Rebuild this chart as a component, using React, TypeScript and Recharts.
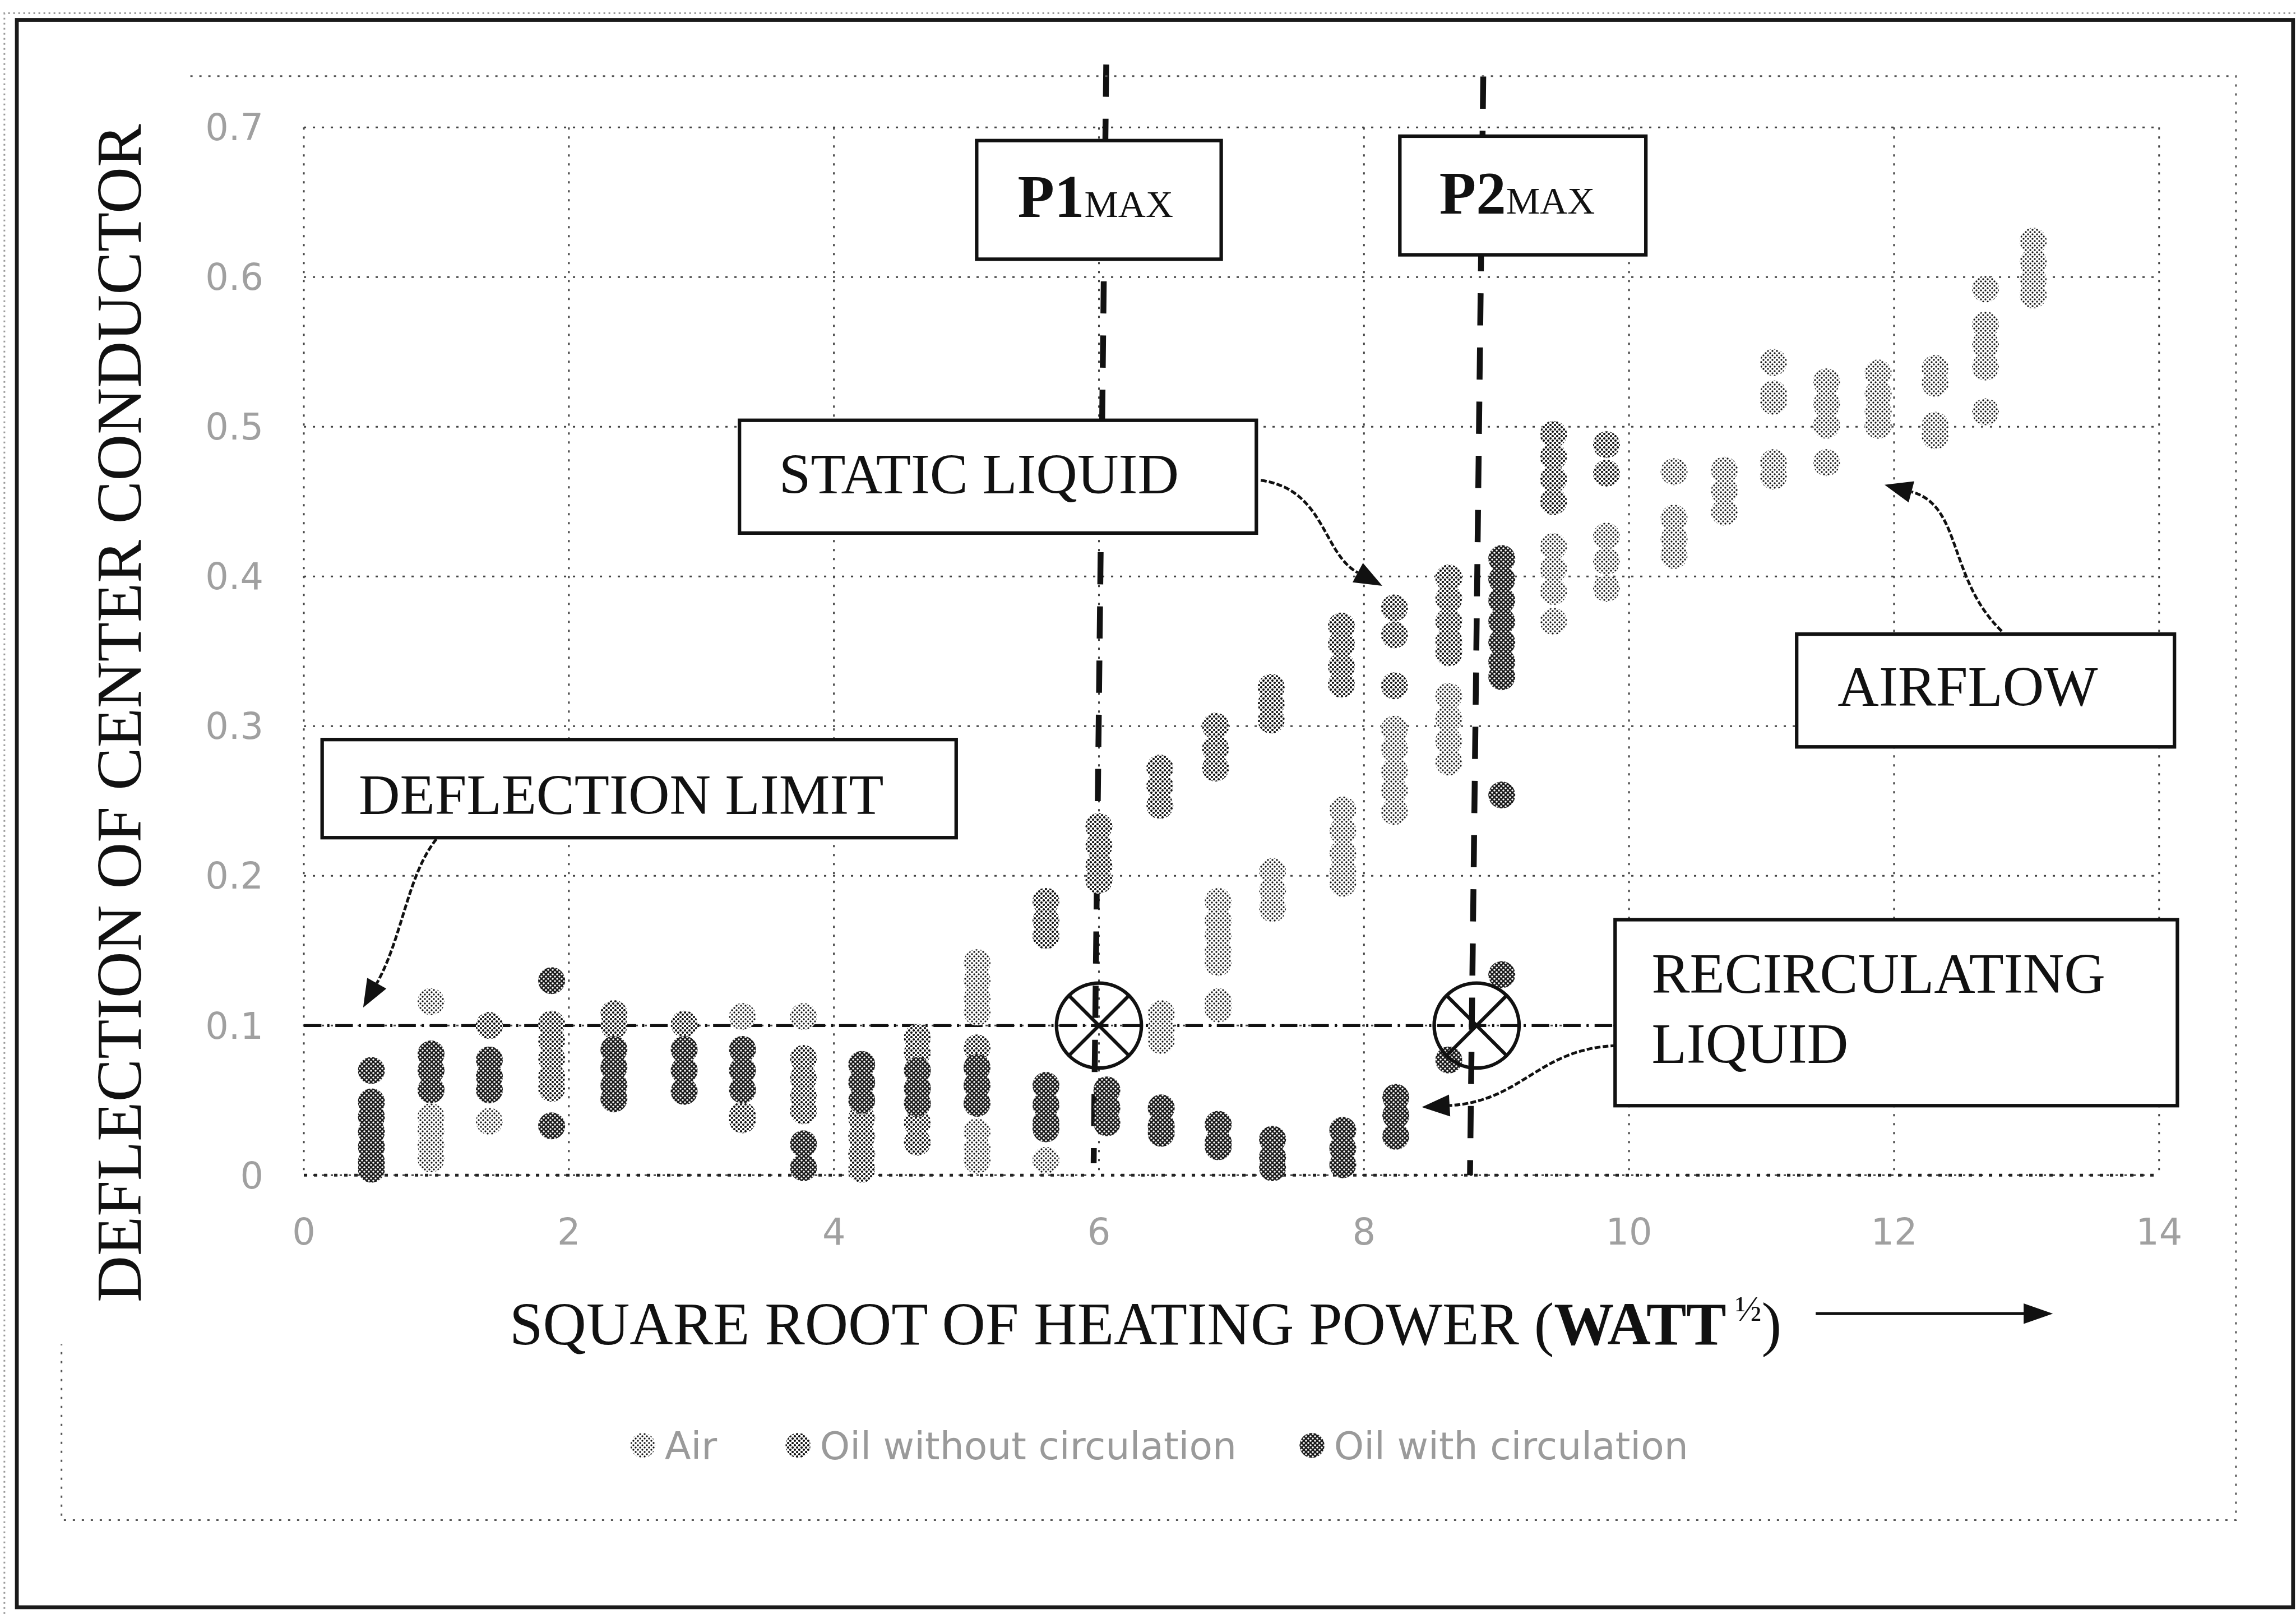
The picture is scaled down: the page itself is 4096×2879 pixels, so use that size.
import React from "react";
import {
  ScatterChart,
  Scatter,
  XAxis,
  YAxis,
  CartesianGrid,
  ReferenceLine,
  ReferenceDot,
} from "recharts";

const W = 4096;
const H = 2879;
// annotation geometry below was measured on a 1568px wide copy of the figure
const K = W / 1568;
const s = (v: number) => v * K;

const xTicks = [0, 2, 4, 6, 8, 10, 12, 14];
const yTicks = [0, 0.1, 0.2, 0.3, 0.4, 0.5, 0.6, 0.7];
const seriesNames = ["Air", "Oil without circulation", "Oil with circulation"];

// [sqrt of heating power, deflections measured at that power]
const airCols: [number, number[]][] = [
  [0.96, [0.116, 0.039, 0.03, 0.02, 0.011]],
  [1.4, [0.1, 0.036]],
  [3.31, [0.106]],
  [3.77, [0.106]],
  [5.08, [0.142, 0.13, 0.118, 0.109, 0.029, 0.018, 0.01]],
  [5.6, [0.01]],
  [6.47, [0.108, 0.098, 0.09]],
  [6.9, [0.183, 0.17, 0.16, 0.15, 0.142, 0.116, 0.111]],
  [7.31, [0.203, 0.19, 0.178]],
  [7.84, [0.244, 0.23, 0.215, 0.203, 0.195]],
  [8.23, [0.298, 0.285, 0.27, 0.257, 0.243]],
  [8.64, [0.32, 0.305, 0.29, 0.276]],
  [9.43, [0.42, 0.405, 0.39, 0.37]],
  [9.83, [0.427, 0.41, 0.392]],
  [10.34, [0.47, 0.439, 0.425, 0.414]],
  [10.72, [0.471, 0.457, 0.443]],
  [11.09, [0.543, 0.522, 0.517, 0.476, 0.467]],
  [11.49, [0.53, 0.515, 0.501, 0.476]],
  [11.88, [0.536, 0.522, 0.51, 0.501]],
  [12.31, [0.539, 0.529, 0.501, 0.494]],
  [12.69, [0.592, 0.568, 0.555, 0.54, 0.51]],
  [13.05, [0.624, 0.61, 0.598, 0.588]],
];

const withoutCols: [number, number[]][] = [
  [1.4, [0.1]],
  [1.87, [0.101, 0.09, 0.078, 0.066, 0.058]],
  [2.34, [0.108, 0.1]],
  [2.87, [0.101]],
  [3.31, [0.04, 0.037]],
  [3.77, [0.078, 0.065, 0.053, 0.043]],
  [4.21, [0.038, 0.026, 0.014, 0.004]],
  [4.63, [0.092, 0.082, 0.035, 0.022]],
  [5.08, [0.085]],
  [5.6, [0.183, 0.17, 0.16]],
  [6.0, [0.233, 0.22, 0.207, 0.197]],
  [6.46, [0.272, 0.26, 0.247]],
  [6.88, [0.3, 0.285, 0.272]],
  [7.3, [0.326, 0.315, 0.304]],
  [7.83, [0.367, 0.355, 0.34, 0.328]],
  [8.23, [0.379, 0.361, 0.327]],
  [8.64, [0.399, 0.385, 0.37, 0.357, 0.349]],
  [9.43, [0.495, 0.48, 0.465, 0.45]],
  [9.83, [0.488, 0.469]],
];

const withCols: [number, number[]][] = [
  [0.51, [0.07, 0.049, 0.039, 0.029, 0.019, 0.009, 0.004]],
  [0.96, [0.081, 0.07, 0.057]],
  [1.4, [0.077, 0.066, 0.057]],
  [1.87, [0.13, 0.033]],
  [2.34, [0.084, 0.072, 0.06, 0.051]],
  [2.87, [0.084, 0.07, 0.056]],
  [3.31, [0.084, 0.07, 0.057]],
  [3.77, [0.021, 0.005]],
  [4.21, [0.074, 0.062, 0.05]],
  [4.63, [0.07, 0.058, 0.048]],
  [5.08, [0.072, 0.06, 0.048]],
  [5.6, [0.06, 0.047, 0.035, 0.031]],
  [6.06, [0.057, 0.045, 0.035]],
  [6.47, [0.045, 0.033, 0.028]],
  [6.9, [0.034, 0.022, 0.019]],
  [7.31, [0.024, 0.012, 0.005]],
  [7.84, [0.03, 0.018, 0.007]],
  [8.24, [0.052, 0.04, 0.026]],
  [8.64, [0.077]],
  [9.04, [0.412, 0.398, 0.384, 0.37, 0.356, 0.343, 0.333, 0.254, 0.134]],
];

const deflectionLimit = 0.1;
const limitEndX = 9.9;
const p1Segment = [
  { x: 6.055, y: 0.742 },
  { x: 5.96, y: 0.008 },
];
const p2Segment = [
  { x: 8.9, y: 0.734 },
  { x: 8.8, y: 0 },
];
const crossMarks = [
  { x: 6.0, y: 0.1 },
  { x: 8.85, y: 0.1 },
];

const toPoints = (cols: [number, number[]][]) =>
  cols.flatMap(([x, ys]) => ys.map((y) => ({ x, y })));

const airData = toPoints(airCols);
const withoutData = toPoints(withoutCols);
const withData = toPoints(withCols);

const fills = ["url(#patAir)", "url(#patWithout)", "url(#patWith)"];
const serif = "'Liberation Serif', 'Times New Roman', serif";
const sans = "'DejaVu Sans', sans-serif";

const markerR = 24;
const dot = (fill: string) => (props: any) =>
  <circle cx={props.cx} cy={props.cy} r={markerR} fill={fill} />;

const CrossCircle = (props: any) => {
  const r = s(29);
  const d = r * Math.SQRT1_2;
  const { cx, cy } = props;
  return (
    <g stroke="#111" strokeWidth={s(2.4)} fill="none">
      <circle cx={cx} cy={cy} r={r} />
      <line x1={cx - d} y1={cy - d} x2={cx + d} y2={cy + d} />
      <line x1={cx - d} y1={cy + d} x2={cx + d} y2={cy - d} />
    </g>
  );
};

const CurvedArrow = ({ pts }: { pts: number[][] }) => {
  const [a, b, c, d] = pts.map(([x, y]) => [s(x), s(y)]);
  const ang = Math.atan2(d[1] - c[1], d[0] - c[0]);
  const len = s(19);
  const half = s(7.5);
  const bx = d[0] - len * Math.cos(ang);
  const by = d[1] - len * Math.sin(ang);
  const l = [bx + half * Math.sin(ang), by - half * Math.cos(ang)];
  const r = [bx - half * Math.sin(ang), by + half * Math.cos(ang)];
  return (
    <g>
      <path
        d={`M${a} C${b} ${c} ${bx},${by}`}
        fill="none"
        stroke="#111"
        strokeWidth={s(1.9)}
        strokeDasharray={`${s(4)} ${s(1.5)}`}
      />
      <polygon points={`${d} ${l} ${r}`} fill="#111" />
    </g>
  );
};

const Box = ({ x, y, w, h }: { x: number; y: number; w: number; h: number }) => (
  <rect
    x={s(x)}
    y={s(y)}
    width={s(w)}
    height={s(h)}
    fill="#fff"
    stroke="#111"
    strokeWidth={s(2.4)}
  />
);

const boxFont = { fontFamily: serif, fontSize: s(39), fill: "#111" };

const Annotations = () => (
  <svg
    width={W}
    height={H}
    style={{ position: "absolute", left: 0, top: 0, pointerEvents: "none" }}
  >
    {/* frames */}
    <path
      d={`M${s(3)},${s(1102)} V${s(9)} H${s(1568)}`}
      fill="none"
      stroke="#999"
      strokeWidth={3}
      strokeDasharray="3 6"
    />
    <rect
      x={s(11.5)}
      y={s(13.6)}
      width={s(1566 - 11.5)}
      height={s(1097.5 - 13.6)}
      fill="none"
      stroke="#1a1a1a"
      strokeWidth={s(2.6)}
    />
    <path
      d={`M${s(130)},${s(52)} H${s(1527)} V${s(1038)} H${s(42)} V${s(918)}`}
      fill="none"
      stroke="#555"
      strokeWidth={3}
      strokeDasharray="4 12"
    />

    {/* axis titles */}
    <text
      x={s(96)}
      y={s(487)}
      transform={`rotate(-90 ${s(96)} ${s(487)})`}
      textAnchor="middle"
      fontFamily={serif}
      fontSize={s(44)}
      fill="#111"
    >
      DEFLECTION OF CENTER CONDUCTOR
    </text>
    <text x={s(348)} y={s(918)} fontFamily={serif} fontSize={s(41)} fill="#111">
      SQUARE ROOT OF HEATING POWER (<tspan fontWeight="bold">WATT</tspan>
      <tspan fontSize={s(24)} dy={s(-16)}> ½</tspan>
      <tspan dy={s(16)}>)</tspan>
    </text>
    <line
      x1={s(1240)}
      y1={s(897)}
      x2={s(1384)}
      y2={s(897)}
      stroke="#111"
      strokeWidth={s(2)}
    />
    <polygon
      points={`${s(1402)},${s(897)} ${s(1382)},${s(890)} ${s(1382)},${s(904)}`}
      fill="#111"
    />

    {/* arrows */}
    <CurvedArrow pts={[[298, 573], [278, 598], [275, 640], [248, 688]]} />
    <CurvedArrow pts={[[861, 328], [905, 334], [903, 378], [944, 400]]} />
    <CurvedArrow pts={[[1367, 431], [1330, 395], [1340, 345], [1287, 331]]} />
    <CurvedArrow pts={[[1104, 714], [1050, 716], [1040, 752], [971, 756]]} />

    {/* label boxes */}
    <Box x={667} y={96} w={167} h={81} />
    <text x={s(695)} y={s(148)} {...boxFont}>
      <tspan fontWeight="bold" fontSize={s(41)}>P1</tspan>
      <tspan fontSize={s(26)}>MAX</tspan>
    </text>
    <Box x={956} y={93} w={168} h={81} />
    <text x={s(983)} y={s(146)} {...boxFont}>
      <tspan fontWeight="bold" fontSize={s(41)}>P2</tspan>
      <tspan fontSize={s(26)}>MAX</tspan>
    </text>
    <Box x={505} y={287} w={353} h={77} />
    <text x={s(532)} y={s(337)} {...boxFont}>STATIC LIQUID</text>
    <Box x={1227} y={433} w={258} h={77} />
    <text x={s(1255)} y={s(482)} {...boxFont}>AIRFLOW</text>
    <Box x={220} y={505} w={433} h={67} />
    <text x={s(245)} y={s(556)} {...boxFont}>DEFLECTION LIMIT</text>
    <Box x={1103} y={628} w={384} h={127} />
    <text x={s(1128)} y={s(678)} {...boxFont}>RECIRCULATING</text>
    <text x={s(1128)} y={s(726)} {...boxFont}>LIQUID</text>

    {/* legend */}
    {seriesNames.map((name, i) => {
      const mx = [439, 545, 896][i];
      return (
        <g key={name}>
          <circle cx={s(mx)} cy={s(987)} r={s(8.5)} fill={fills[i]} />
          <text
            x={s(mx + 15)}
            y={s(996.5)}
            fontFamily={sans}
            fontSize={s(26)}
            fill="#9a9a9a"
          >
            {name}
          </text>
        </g>
      );
    })}
  </svg>
);

export default function App() {
  const plotLeft = s(207.5);
  const plotRight = s(1474.5);
  const plotTop = s(87);
  const plotBottom = s(802.5);
  const yAxisW = 200;
  const xAxisH = 200;

  return (
    <div style={{ position: "relative", width: W, height: H, background: "#fff" }}>
      <style>{"body{margin:0;background:#fff}"}</style>
      <svg width={0} height={0} style={{ position: "absolute" }}>
        <defs>
          <pattern id="patAir" width="8" height="8" patternUnits="userSpaceOnUse">
            <rect width="8" height="8" fill="#fff" />
            <circle cx="2" cy="2" r="1.7" fill="#111" />
            <circle cx="6" cy="6" r="1.7" fill="#111" />
          </pattern>
          <pattern id="patWithout" width="8" height="8" patternUnits="userSpaceOnUse">
            <rect width="8" height="8" fill="#fff" />
            <circle cx="2" cy="2" r="2.1" fill="#111" />
            <circle cx="6" cy="6" r="2.1" fill="#111" />
          </pattern>
          <pattern id="patWith" width="8" height="8" patternUnits="userSpaceOnUse">
            <rect width="8" height="8" fill="#1a1a1a" />
            <circle cx="2" cy="2" r="1.8" fill="#fff" />
            <circle cx="6" cy="6" r="1.8" fill="#fff" />
          </pattern>
        </defs>
      </svg>
      <ScatterChart
        width={W}
        height={H}
        margin={{
          top: plotTop,
          right: W - plotRight,
          bottom: H - plotBottom - xAxisH,
          left: plotLeft - yAxisW,
        }}
      >
        <CartesianGrid stroke="#444" strokeWidth={3} strokeDasharray="4 12" />
        <XAxis
          type="number"
          dataKey="x"
          domain={[0, 14]}
          ticks={xTicks}
          interval={0}
          height={xAxisH}
          tickLine={false}
          tickSize={0}
          tickMargin={77}
          axisLine={{ stroke: "#222", strokeWidth: 5, strokeDasharray: "6 12" }}
          tick={{ fill: "#a0a0a0", fontSize: s(25), fontFamily: sans }}
        />
        <YAxis
          type="number"
          dataKey="y"
          domain={[0, 0.7]}
          ticks={yTicks}
          interval={0}
          width={yAxisW}
          axisLine={false}
          tickLine={false}
          tickSize={0}
          tickMargin={72}
          tickFormatter={(v: number) => (v === 0 ? "0" : String(v))}
          tick={{ fill: "#a0a0a0", fontSize: s(25), fontFamily: sans }}
        />
        <Scatter
          name={seriesNames[0]}
          data={airData}
          shape={dot(fills[0])}
          isAnimationActive={false}
        />
        <Scatter
          name={seriesNames[1]}
          data={withoutData}
          shape={dot(fills[1])}
          isAnimationActive={false}
        />
        <Scatter
          name={seriesNames[2]}
          data={withData}
          shape={dot(fills[2])}
          isAnimationActive={false}
        />
        <ReferenceLine
          segment={p1Segment}
          stroke="#111"
          strokeWidth={s(4)}
          strokeDasharray={`${s(22)} ${s(15)}`}
          ifOverflow="visible"
        />
        <ReferenceLine
          segment={p2Segment}
          stroke="#111"
          strokeWidth={s(4)}
          strokeDasharray={`${s(22)} ${s(15)}`}
          ifOverflow="visible"
        />
        <ReferenceLine
          segment={[
            { x: 0, y: deflectionLimit },
            { x: limitEndX, y: deflectionLimit },
          ]}
          stroke="#111"
          strokeWidth={s(2)}
          strokeDasharray={`${s(12)} ${s(4)} ${s(1.5)} ${s(4)}`}
          ifOverflow="visible"
        />
        {crossMarks.map((m, i) => (
          <ReferenceDot
            key={i}
            x={m.x}
            y={m.y}
            r={s(29)}
            ifOverflow="visible"
            shape={(p: any) => <CrossCircle cx={p.cx} cy={p.cy} />}
          />
        ))}
      </ScatterChart>
      <Annotations />
    </div>
  );
}
